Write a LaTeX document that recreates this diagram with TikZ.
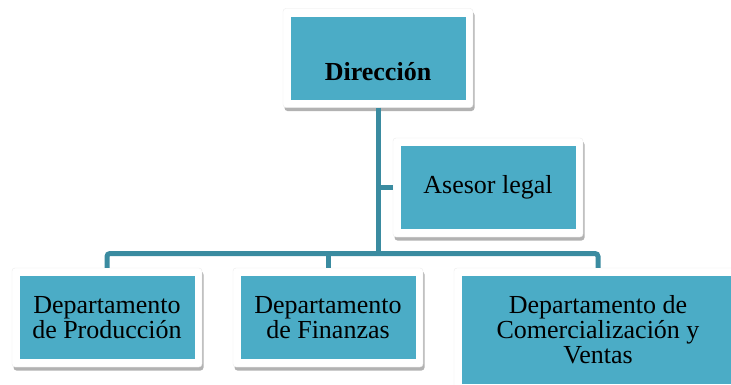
\documentclass[tikz,border=0pt]{standalone}
\usepackage{fontspec}
\setmainfont{Liberation Serif}
\usepackage{xcolor}
\definecolor{boxfill}{HTML}{4BACC6}
\definecolor{linecol}{HTML}{3A8BA0}
\usepackage{tikz}
\usetikzlibrary{shadows, positioning, calc}

\tikzset{
  outbox/.style={fill=white, draw=black!8, rounded corners=3pt, inner sep=0pt,
    minimum width=190pt, minimum height=99pt,
    drop shadow={shadow xshift=1.5pt, shadow yshift=-3.5pt, opacity=0.55, fill=black!55}},
  inbox/.style={fill=boxfill, inner sep=0pt, align=center,
    minimum width=175pt, minimum height=83pt},
  orgline/.style={draw=linecol, line width=5pt}
}

\begin{document}
\begin{tikzpicture}[x=1pt, y=-1pt, font=\fontsize{26pt}{25pt}\selectfont]
  \useasboundingbox (0,0) rectangle (731,384);
  % outer white frames
  \node[outbox] (dir-out) at (378, 58.0) {};
  \node[outbox] (ase-out) at (488,187.5) {};
  \node[outbox] (prod-out) at (107,317.5) {};
  \node[outbox] (fin-out) at (328,317.5) {};
  \node[outbox, minimum width=288pt, minimum height=124pt] (com-out) at (598,330) {};
  % coloured boxes with text
  \node[inbox, font=\fontsize{26pt}{25pt}\selectfont\bfseries] (dir) at (dir-out) {\mbox{}\\[20pt]Dirección};
  \node[inbox] (ase) at (ase-out) {Asesor legal};
  \node[inbox] (prod) at (prod-out) {Departamento\\de Producción};
  \node[inbox] (fin) at (fin-out) {Departamento\\de Finanzas};
  \node[inbox, minimum width=272pt, minimum height=108pt] (com) at (com-out) {Departamento de\\Comercialización y\\Ventas};
  % connectors
  \coordinate (hub) at (378,253.5);
  \draw[orgline] (dir-out.south) -- (hub);
  \draw[orgline] (dir-out.south |- ase-out.west) -- (ase-out.west);
  \draw[orgline, rounded corners=3pt] (prod-out.north) |- (hub) -| (com-out.north);
  \draw[orgline] (hub -| fin-out.north) -- (fin-out.north);
\end{tikzpicture}
\end{document}
